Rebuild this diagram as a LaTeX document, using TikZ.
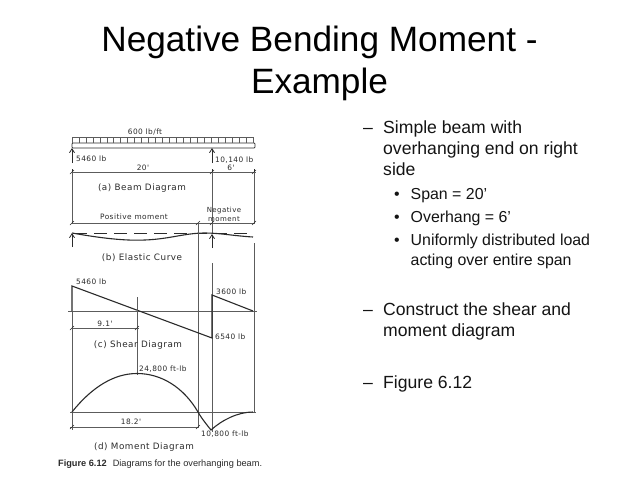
\documentclass[tikz,border=0pt]{standalone}
\usepackage{fontspec}
\setmainfont{Liberation Sans}
\newfontfamily\drawfont[LetterSpace=6]{DejaVu Sans}
\usetikzlibrary{arrows.meta}
\definecolor{ink}{gray}{0.17}
\definecolor{soft}{gray}{0.36}
\tikzset{
 x=1pt,y=-1pt,
 title/.style={font=\fontsize{35.2}{41}\selectfont,anchor=base,inner sep=0,text=black},
 dashitem/.style={font=\fontsize{17.6}{22}\selectfont,anchor=base west,inner sep=0,text=black!92},
 subitem/.style={font=\fontsize{15.9}{21}\selectfont,anchor=base west,inner sep=0,text=black!92},
 geo/.style={draw=ink,line width=0.75pt},
 thin line/.style={draw=soft,line width=0.6pt},
 heavy/.style={draw=ink,line width=1.1pt},
 lab/.style={font=\drawfont\fontsize{7.4}{8}\selectfont,text=ink,inner sep=0},
 biglab/.style={font=\drawfont\fontsize{8.8}{9}\selectfont,text=ink,inner sep=0},
 uparrow/.style={draw=ink,line width=0.8pt,-{Straight Barb[length=4pt,width=5pt]}},
 dimtick/.style={draw=ink,line width=0.6pt}
}
\begin{document}
\begin{tikzpicture}
\useasboundingbox (0,0) rectangle (638,479);
\fill[white] (0,0) rectangle (638,479);
% Title
\node[title] (ttl) at (319.5,52) {Negative Bending Moment -};
\node[title] (ttlb) at (319.5,93) {Example};
% Right text
\node[dashitem] (d1) at (363,133) {–};
\node[dashitem] (t1) at (383,133) {Simple beam with};
\node[dashitem] (t1b) at (383,154) {overhanging end on right};
\node[dashitem] (t1c) at (383,175) {side};
\node[subitem] (b1) at (394,199) {•};
\node[subitem] (s1) at (410.5,199) {Span = 20’};
\node[subitem] (b2) at (394,222) {•};
\node[subitem] (s2) at (410.5,222) {Overhang = 6’};
\node[subitem] (b3) at (394,245) {•};
\node[subitem] (s3) at (410.5,245) {Uniformly distributed load};
\node[subitem] (s3b) at (410.5,265) {acting over entire span};
\node[dashitem] (d2) at (363,315) {–};
\node[dashitem] (t2) at (383,315) {Construct the shear and};
\node[dashitem] (t2b) at (383,336) {moment diagram};
\node[dashitem] (d3) at (363,388) {–};
\node[dashitem] (t3) at (383,388) {Figure 6.12};
% Beam
\draw[geo,rounded corners=0.8pt] (72,143) rectangle (255,148);
\draw[thin line] (72,137) -- (253,137);
\foreach \i in {0,...,26} {\draw[thin line] ({72+\i*6.96},137) -- ({72+\i*6.96},143);}
\node[lab] (load) at (145,132) {600 lb/ft};
% Reactions
\coordinate (ra0) at (72,163); \coordinate (ra1) at (72,148);
\coordinate (rb0) at (212,163); \coordinate (rb1) at (212,148);
\draw[uparrow] (ra0) -- (ra1);
\draw[uparrow] (rb0) -- (rb1);
\node[lab,anchor=west] (ra) at (76,159) {5460 lb};
\node[lab,anchor=west] (rb) at (215,160) {10,140 lb};
% Dimension 1
\draw[thin line] (72,172) -- (256,172);
\foreach \x in {72,212,254} {\draw[dimtick] (\x-2,174) -- (\x+2,170); \draw[dimtick] (\x,169) -- (\x,175);}
\node[lab] (d20) at (143,168) {20'};
\node[lab] (d6) at (231,168) {6'};
\node[biglab] (capa) at (142,188) {(a) Beam Diagram};
% Verticals
\draw[thin line] (72,172) -- (72,223);
\draw[thin line] (212,172) -- (212,233);
\draw[thin line] (254,172) -- (254,223);
\node[lab,align=center,font=\drawfont\fontsize{7}{9}\selectfont] (neg) at (224,214) {Negative\\moment};
\node[lab] (pos) at (134,217) {Positive moment};
% Dimension 2
\draw[thin line] (72,223) -- (255,223);
\foreach \x in {72,198,212,254} {\draw[dimtick] (\x-2,225) -- (\x+2,221);}
% Elastic curve
\draw[ink,line width=0.6pt,dash pattern=on 13pt off 7pt] (74,233) -- (254,233);
\draw[heavy] (72,233) .. controls (100,238) and (125,241) .. (145,240) .. controls (170,239) and (185,233) .. (205,233) .. controls (220,233) and (235,236) .. (253,237);
\draw[uparrow] (72,247) -- (72,233);
\draw[uparrow] (212,248) -- (212,234);
\node[biglab] (capb) at (142,258) {(b) Elastic Curve};
% Long verticals
\draw[thin line] (198,223) -- (198,427);
\draw[thin line] (254,243) -- (254,412);
\draw[thin line] (212,263) -- (212,432);
\draw[thin line] (72,311) -- (72,430);
% Shear
\draw[thin line] (68,311) -- (257,311);
\draw[heavy] (72,311) -- (72,286) -- (212,338) -- (212,295) -- (253,311);
\node[lab,anchor=west] (v1) at (76,282) {5460 lb};
\node[lab,anchor=west] (v2) at (216,292) {3600 lb};
\node[lab,anchor=west] (v3) at (215,337) {6540 lb};
% 9.1
\draw[thin line] (137,297) -- (137,375);
\draw[thin line] (72,328) -- (139,328);
\foreach \x in {72,137} {\draw[dimtick] (\x-2,330) -- (\x+2,326);}
\node[lab] (d91) at (105,324) {9.1'};
\node[biglab] (capc) at (138,345) {(c) Shear Diagram};
% Moment
\draw[thin line] (70,412) -- (256,412);
\draw[heavy] (72,412) .. controls (92,387) and (114,373.5) .. (137,373.5) .. controls (162,373.5) and (184,388) .. (198,412) .. controls (202,419) and (207,425) .. (211,430) .. controls (222,420) and (238,412) .. (253,412);
\node[lab,anchor=west] (m1) at (139,369) {24,800 ft-lb};
\draw[thin line] (70,427) -- (199,427);
\foreach \x in {72,198} {\draw[dimtick] (\x-2,429) -- (\x+2,425);}
\node[lab] (d182) at (131,422) {18.2'};
\node[lab,anchor=west] (m2) at (201,434) {10,800 ft-lb};
\node[biglab] (capd) at (144,447) {(d) Moment Diagram};
% Caption
\node[font=\fontsize{9.2}{10}\selectfont,anchor=west,inner sep=0,text=ink] (cap) at (58,464) {\textbf{Figure 6.12}\hspace{6pt}Diagrams for the overhanging beam.};
\end{tikzpicture}
\end{document}
